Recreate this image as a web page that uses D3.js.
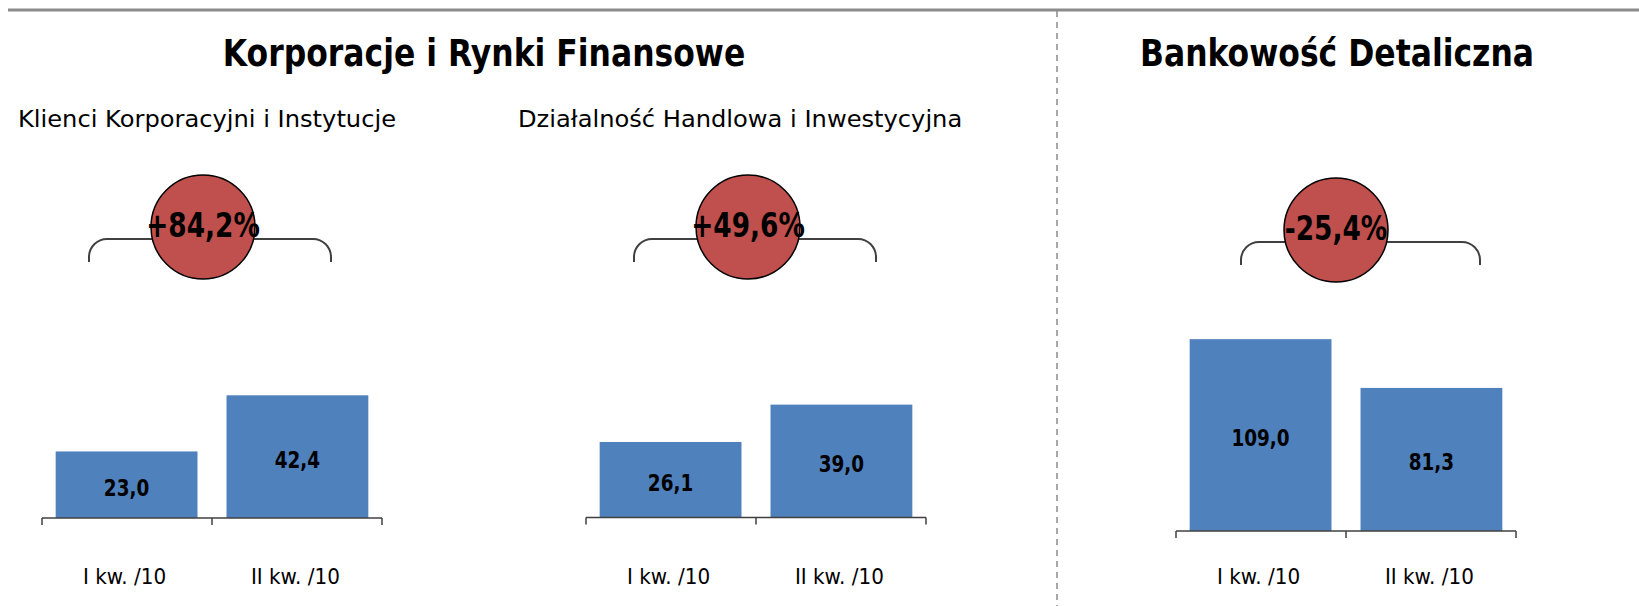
<!DOCTYPE html>
<html>
<head>
<meta charset="utf-8">
<script src="https://cdn.jsdelivr.net/npm/d3@7"></script>
<style>
  body { margin: 0; background: #fff; }
  svg { display: block; }
  text { font-family: "DejaVu Sans", Verdana, sans-serif; fill: #000; }
</style>
</head>
<body>
<div id="chart"></div>
<script>
// --- DATA ---
const categories = ["I kw. /10", "II kw. /10"];
const corpValues = [23.0, 42.4];
const tradingValues = [26.1, 39.0];
const retailValues = [109.0, 81.3];
const changeLabels = ["+84,2%", "+49,6%", "-25,4%"];
const sectionTitles = ["Korporacje i Rynki Finansowe", "Bankowość Detaliczna"];
const panelTitles = ["Klienci Korporacyjni i Instytucje", "Działalność Handlowa i Inwestycyjna", ""];

const W = 1639, H = 606;
const fmt = v => d3.format(".1f")(v).replace(".", ",");

const svg = d3.select("#chart").append("svg")
    .attr("width", W)
    .attr("height", H);

// squeeze text to a narrower face (reference font is quite condensed)
function condense(sel, k) {
    sel.each(function() {
        const len = this.getComputedTextLength();
        d3.select(this).attr("textLength", len * k).attr("lengthAdjust", "spacingAndGlyphs");
    });
}

// top rule + dashed divider
svg.append("line")
    .attr("x1", 8).attr("x2", W).attr("y1", 10).attr("y2", 10)
    .attr("stroke", "#8c8c8c").attr("stroke-width", 3);
svg.append("line")
    .attr("x1", 1057).attr("x2", 1057).attr("y1", 11).attr("y2", H)
    .attr("stroke", "#8c8c8c").attr("stroke-width", 1.5)
    .attr("stroke-dasharray", "6,5");

// section titles
svg.selectAll(".section-title")
    .data(sectionTitles)
    .enter().append("text")
    .attr("class", "section-title")
    .attr("x", (d, i) => [484, 1337][i])
    .attr("y", 66)
    .attr("text-anchor", "middle")
    .style("font-size", "37px")
    .style("font-weight", "bold")
    .text(d => d)
    .call(condense, 0.85);

// panel layout (pixel geometry only)
const panels = [
    {values: corpValues, x0: 42, x1: 382, base: 518, yMax: 50, top: 373.3,
     cx: 203, cy: 227, bx0: 89, bx1: 331, by: 239, tx: 18},
    {values: tradingValues, x0: 586, x1: 926, base: 517.5, yMax: 50, top: 372.8,
     cx: 748, cy: 227, bx0: 634, bx1: 876, by: 239, tx: 518},
    {values: retailValues, x0: 1176, x1: 1516, base: 531, yMax: 120, top: 319.8,
     cx: 1336, cy: 230, bx0: 1241, bx1: 1480, by: 242, tx: 0}
];

panels.forEach((p, i) => {
    const g = svg.append("g");

    const x = d3.scaleBand()
        .domain(categories)
        .range([p.x0, p.x1])
        .paddingInner(0.17)
        .paddingOuter(0.08);

    const y = d3.scaleLinear()
        .domain([0, p.yMax])
        .range([p.base, p.top]);

    // subtitle
    if (panelTitles[i]) {
        g.append("text")
            .attr("x", p.tx)
            .attr("y", 127)
            .attr("text-anchor", "start")
            .style("font-size", "23px")
            .text(panelTitles[i])
            .call(condense, 1.05);
    }

    // bars
    g.selectAll("rect")
        .data(p.values)
        .enter().append("rect")
        .attr("x", (d, j) => x(categories[j]))
        .attr("width", x.bandwidth())
        .attr("y", d => y(d))
        .attr("height", d => y(0) - y(d))
        .attr("fill", "#4f81bd");

    // value labels
    g.selectAll(".val")
        .data(p.values)
        .enter().append("text")
        .attr("class", "val")
        .attr("x", (d, j) => x(categories[j]) + x.bandwidth() / 2)
        .attr("y", d => (y(d) + y(0)) / 2 + 11)
        .attr("text-anchor", "middle")
        .style("font-size", "23px")
        .style("font-weight", "bold")
        .text(d => fmt(d))
        .call(condense, 0.8);

    // axis line with ticks at the band edges
    const edge = d3.scaleLinear().domain([0, categories.length]).range([p.x0, p.x1]);
    g.append("line")
        .attr("x1", p.x0).attr("x2", p.x1)
        .attr("y1", p.base).attr("y2", p.base)
        .attr("stroke", "#404040").attr("stroke-width", 1.5);
    g.selectAll(".tick")
        .data(d3.range(categories.length + 1))
        .enter().append("line")
        .attr("class", "tick")
        .attr("x1", d => edge(d)).attr("x2", d => edge(d))
        .attr("y1", p.base).attr("y2", p.base + 7)
        .attr("stroke", "#404040").attr("stroke-width", 1.5);

    // category labels
    g.selectAll(".cat")
        .data(categories)
        .enter().append("text")
        .attr("class", "cat")
        .attr("x", d => x(d) + x.bandwidth() / 2 - 2)
        .attr("y", 584)
        .attr("text-anchor", "middle")
        .style("font-size", "21px")
        .text(d => d)
        .call(condense, 0.95);

    // bracket over both bars
    const r = 18, drop = 23;
    const br = d3.path();
    br.moveTo(p.bx0, p.by + drop);
    br.lineTo(p.bx0, p.by + r);
    br.arcTo(p.bx0, p.by, p.bx0 + r, p.by, r);
    br.lineTo(p.bx1 - r, p.by);
    br.arcTo(p.bx1, p.by, p.bx1, p.by + r, r);
    br.lineTo(p.bx1, p.by + drop);
    g.append("path")
        .attr("d", br.toString())
        .attr("fill", "none")
        .attr("stroke", "#404040")
        .attr("stroke-width", 2);

    // change bubble
    g.append("circle")
        .attr("cx", p.cx).attr("cy", p.cy).attr("r", 52)
        .attr("fill", "#c0504d")
        .attr("stroke", "#000")
        .attr("stroke-width", 1.5);
    g.append("text")
        .attr("x", p.cx)
        .attr("y", p.cy + 10)
        .attr("text-anchor", "middle")
        .style("font-size", "33px")
        .style("font-weight", "bold")
        .text(changeLabels[i])
        .call(condense, 0.8);
});
</script>
</body>
</html>
